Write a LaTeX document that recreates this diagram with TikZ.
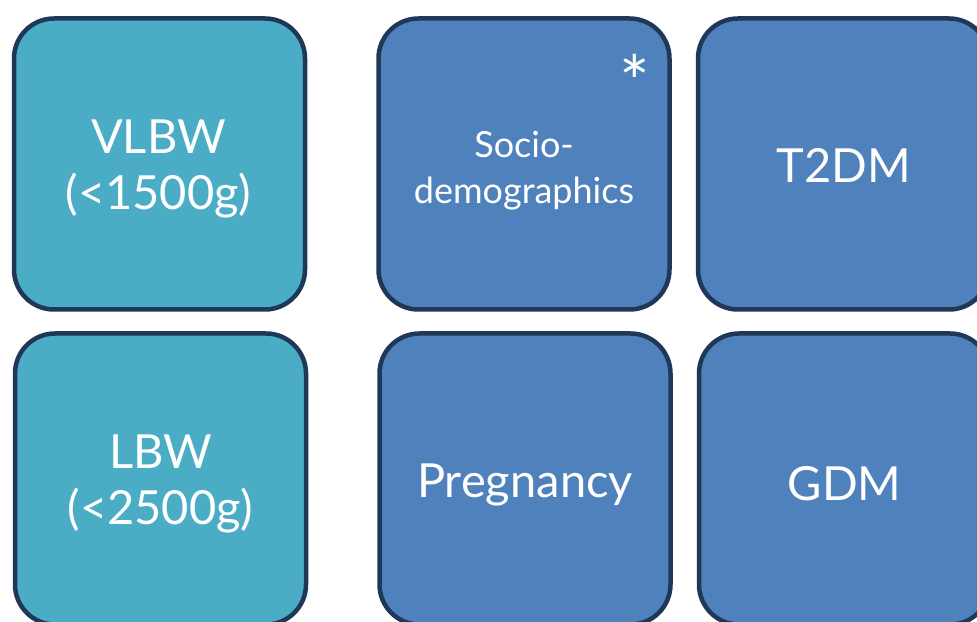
\documentclass[tikz,border=0pt]{standalone}
\usepackage{fontspec}
\setmainfont{Lato}
\usetikzlibrary{positioning}
\definecolor{aquabox}{HTML}{4BACC6}
\definecolor{bluebox}{HTML}{4F81BD}
\definecolor{navyline}{HTML}{1F3857}
\tikzstyle{card} = [rectangle, rounded corners=40pt, minimum width=291pt, minimum height=291pt, line width=4.5pt, draw=navyline]
\tikzstyle{aquacard} = [card, fill=aquabox]
\tikzstyle{bluecard} = [card, fill=bluebox]
\tikzstyle{cardtxt} = [text=white, align=center, inner sep=0pt]
\newcommand{\bigtxt}{\fontsize{47}{56}\selectfont}
\newcommand{\smalltxt}{\fontsize{36}{46}\selectfont}

\begin{document}
\begin{tikzpicture}[x=1pt,y=1pt]
\useasboundingbox (0,0) rectangle (977,621);
\clip (0,0) rectangle (977,621);
\fill[white] (0,0) rectangle (977,621);
\node[aquacard] (vlbw) at (159.5,457) {};
\node[aquacard] (lbw) at (160.5,142) {};
\node[bluecard] (socio) at (524,457) {};
\node[bluecard] (preg) at (525,142) {};
\node[bluecard] (t2dm) at (843.5,457) {};
\node[bluecard] (gdm) at (844.5,142) {};
\node[cardtxt, font=\bigtxt] (vlbwtxt) at ([xshift=-1pt,yshift=-5pt]vlbw.center) {VLBW\\(<1500g)};
\node[cardtxt, font=\bigtxt] (lbwtxt) at ([yshift=-5pt]lbw.center) {LBW\\(<2500g)};
\node[cardtxt, font=\smalltxt] (sociotxt) at ([yshift=-7pt]socio.center) {Socio-\\demographics};
\node[cardtxt, font=\bigtxt] (pregtxt) at ([yshift=-6pt]preg.center) {Pregnancy};
\node[cardtxt, font=\bigtxt] (t2dmtxt) at ([yshift=-1pt]t2dm.center) {T2DM};
\node[cardtxt, font=\bigtxt] (gdmtxt) at ([yshift=-5pt]gdm.center) {GDM};
\node[cardtxt, font=\fontsize{72}{72}\selectfont, anchor=base] (star) at (635,512) {*};
\end{tikzpicture}
\end{document}
